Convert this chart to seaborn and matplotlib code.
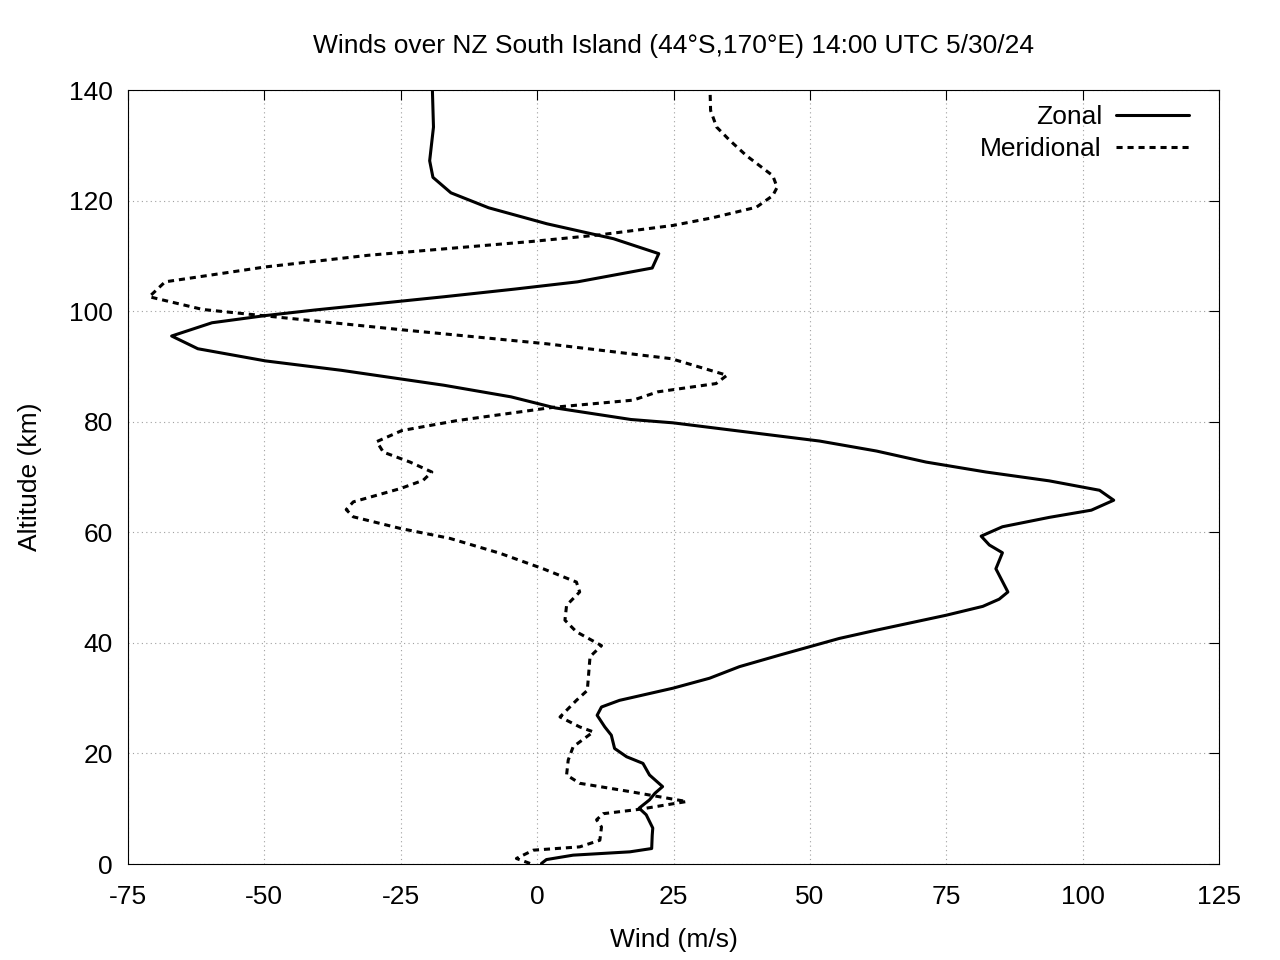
import matplotlib
matplotlib.use("Agg")
import matplotlib.pyplot as plt
import numpy as np
import pandas as pd
import seaborn as sns

# zonal wind (m/s) vs altitude (km)
zonal_alt = [0.1, 0.8, 1.6, 2.2, 2.8, 5.2, 6.5, 8.9, 10.1, 11.6, 12.8, 14.0, 16.1,
             18.2, 19.4, 20.9, 23.3, 24.8, 26.9, 28.4, 29.6, 31.8, 33.6, 35.7, 37.8,
             40.8, 42.3, 45.0, 46.6, 47.9, 49.2, 53.4, 56.3, 57.7, 59.3, 61.0, 62.7,
             64.0, 65.8, 67.6, 69.3, 70.9, 72.7, 74.7, 76.5, 79.8, 80.4, 82.5, 84.5,
             86.6, 89.3, 91.0, 93.2, 95.5, 97.9, 99.2, 100.2, 102.6, 104.0, 105.3,
             107.8, 110.4, 113.1, 115.8, 118.7, 121.4, 124.2, 127.2, 133.3, 140.0]
zonal_wind = [0.8, 1.7, 6.6, 17.0, 21.0, 21.1, 21.2, 20.0, 18.7, 20.6, 21.6, 23.0, 20.6,
              19.4, 16.4, 14.2, 13.6, 12.4, 11.0, 11.8, 15.1, 24.9, 31.6, 37.1, 44.5,
              55.4, 62.2, 75.0, 81.7, 84.7, 86.3, 84.1, 85.3, 82.9, 81.4, 85.3, 93.9,
              101.6, 105.7, 103.1, 93.9, 82.3, 71.3, 62.2, 51.8, 24.9, 17.2, 3.3, -4.8,
              -17.1, -35.9, -49.8, -62.2, -67.0, -59.6, -49.8, -40.8, -17.1, -4.0, 7.4,
              21.1, 22.3, 14.0, 1.8, -8.9, -15.8, -19.1, -19.7, -19.0, -19.2]

# meridional wind (m/s) vs altitude (km)
merid_alt = [0.1, 1.0, 2.5, 3.1, 4.3, 6.7, 8.0, 9.1, 9.9, 11.3, 13.1, 14.6, 16.1, 18.8,
             21.2, 23.9, 24.8, 26.6, 29.6, 31.4, 37.5, 39.5, 42.0, 44.1, 46.8, 49.2,
             51.0, 53.4, 56.2, 58.9, 60.7, 62.8, 64.1, 65.5, 67.9, 69.4, 70.9, 72.7,
             74.5, 76.4, 78.4, 80.2, 82.6, 83.9, 85.4, 86.9, 88.4, 91.4, 94.1, 96.6,
             98.9, 100.3, 102.6, 105.3, 108.0, 110.1, 112.6, 113.8, 115.5, 116.9,
             118.8, 120.9, 122.4, 124.5, 128.1, 130.9, 133.3, 136.3, 140.0]
merid_wind = [-1.3, -3.8, -0.7, 7.8, 11.5, 11.8, 10.9, 12.1, 18.8, 27.4, 17.0, 7.8, 5.4,
              5.7, 6.6, 10.3, 7.8, 4.2, 7.2, 9.2, 9.7, 11.8, 7.2, 5.1, 5.4, 7.8, 7.2,
              1.1, -6.8, -16.0, -25.1, -33.7, -35.0, -33.7, -25.1, -20.9, -19.3, -23.3,
              -28.2, -29.4, -24.8, -14.7, 2.9, 17.6, 22.1, 32.8, 34.8, 24.6, 1.7, -24.5,
              -47.4, -61.3, -71.1, -68.2, -49.8, -31.0, -1.0, 11.5, 24.9, 32.2, 40.2,
              43.2, 44.0, 43.2, 38.4, 35.3, 32.9, 31.8, 31.7]

x_ticks = [-75, -50, -25, 0, 25, 50, 75, 100, 125]
y_ticks = [0, 20, 40, 60, 80, 100, 120, 140]

title = "Winds over NZ South Island (44°S,170°E) 14:00 UTC 5/30/24"


def make_plot():
    sns.set_style("white")
    plt.rcParams["font.family"] = ["Liberation Sans", "DejaVu Sans"]
    plt.rcParams["text.color"] = "black"
    plt.rcParams["axes.labelcolor"] = "black"
    plt.rcParams["axes.unicode_minus"] = False
    fs = 19

    fig = plt.figure(figsize=(12.8, 9.6), dpi=100)
    ax = fig.add_axes([128 / 1280, 1 - 864 / 960, (1219 - 128) / 1280, (864 - 90) / 960])

    zonal = pd.DataFrame({"wind": zonal_wind, "alt": zonal_alt})
    merid = pd.DataFrame({"wind": merid_wind, "alt": merid_alt})

    sns.lineplot(data=zonal, x="wind", y="alt", sort=False, estimator=None,
                 color="black", lw=2.2, label="Zonal", ax=ax)
    sns.lineplot(data=merid, x="wind", y="alt", sort=False, estimator=None,
                 color="black", lw=2.2, linestyle=(0, (2.0, 1.6)),
                 label="Meridional", ax=ax)

    ax.set_xlim(-75, 125)
    ax.set_ylim(0, 140)
    ax.set_xticks(x_ticks)
    ax.set_yticks(y_ticks)
    ax.grid(True, linestyle=(0, (1, 3)), color="#a0a0a0", lw=0.8)

    for sp in ax.spines.values():
        sp.set_visible(True)
        sp.set_color("black")
        sp.set_linewidth(0.8)

    ax.tick_params(direction="in", top=True, right=True, length=7, width=0.8,
                   labelsize=fs, colors="black")
    ax.tick_params(axis="x", pad=15)
    ax.tick_params(axis="y", pad=11)

    ax.set_xlabel("Wind (m/s)", fontsize=fs)
    ax.set_ylabel("Altitude (km)", fontsize=fs)
    ax.xaxis.label.set_va("center")
    ax.yaxis.label.set_va("center")
    ax.xaxis.set_label_coords(0.5, -76 / 774)
    ax.yaxis.set_label_coords(-98 / 1091, 0.5)

    ax.text(0.5, 1 + 44 / 774, title, transform=ax.transAxes, ha="center",
            va="center", fontsize=fs)

    ax.legend(loc="upper right", bbox_to_anchor=(1 - 30 / 1091, 1 - 15 / 774),
              frameon=False, markerfirst=False, fontsize=fs, handlelength=2.75,
              handletextpad=0.55, labelspacing=0.3, borderpad=0, borderaxespad=0)

    fig.savefig("out.png", dpi=100)
    plt.close(fig)


if __name__ == "__main__":
    make_plot()
